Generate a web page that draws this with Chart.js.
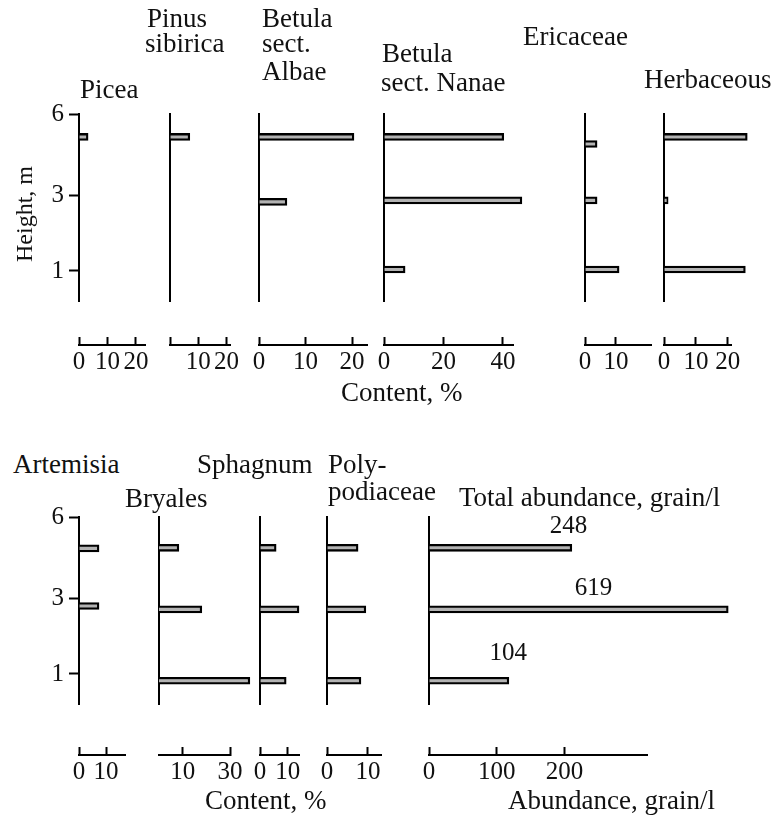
<!DOCTYPE html>
<html>
<head>
<meta charset="utf-8">
<script src="https://cdn.jsdelivr.net/npm/chart.js@4/dist/chart.umd.min.js"></script>
<style>
html,body{margin:0;padding:0;background:#fff;}
#wrap{position:relative;width:775px;height:818px;overflow:hidden;font-family:"Liberation Serif","Times New Roman",serif;color:#111;}
#wrap canvas{position:absolute;}
.t{position:absolute;white-space:nowrap;line-height:1;}
</style>
</head>
<body>
<div id="wrap"></div>
<script>
// ---------------- DATA ----------------
const heightTicks = [1, 3, 6];

// Row 1 (heights in m, contents in %)
const piceaHeights = [5.16];
const piceaValues = [3.2];
const pinusHeights = [5.16];
const pinusValues = [7];
const betulaAlbaeHeights = [5.16, 2.84];
const betulaAlbaeValues = [20.4, 6];
const betulaNanaeHeights = [5.16, 2.88, 1.04];
const betulaNanaeValues = [40.3, 46.4, 7.1];
const ericaceaeHeights = [4.9, 2.88, 1.04];
const ericaceaeValues = [3.9, 3.9, 11];
const herbaceousHeights = [5.16, 2.88, 1.04];
const herbaceousValues = [26.1, 1.3, 25.5];

// Row 2
const artemisiaHeights = [4.85, 2.81];
const artemisiaValues = [7.4, 7.4];
const bryalesHeights = [4.87, 2.72, 0.82];
const bryalesValues = [8.4, 18.1, 38.4];
const sphagnumHeights = [4.87, 2.72, 0.82];
const sphagnumValues = [5.8, 14, 9.4];
const polypodiaceaeHeights = [4.87, 2.72, 0.82];
const polypodiaceaeValues = [7.6, 9.5, 8.3];
const totalHeights = [4.87, 2.72, 0.82];
const totalValues = [211, 442, 118];
const totalLabels = ['248', '619', '104'];

// x tick values / labels
const ticks0_10_20 = [0, 10, 20];
const labels0_10_20 = ['0', '10', '20'];
const labelsPinus = ['', '10', '20'];
const ticks0_20_40 = [0, 20, 40];
const labels0_20_40 = ['0', '20', '40'];
const ticks0_10 = [0, 10];
const labels0_10 = ['0', '10'];
const ticksBryales = [10, 30];
const labelsBryales = ['10', '30'];
const ticksTotal = [0, 100, 200];
const labelsTotal = ['0', '100', '200'];

// ---------------- CUSTOM SCALE (uneven height axis) ----------------
const K = 1.09;
class PiecewiseScale extends Chart.LinearScale {
  static id = 'piecewise';
  static defaults = Chart.LinearScale.defaults;
  _u(v) { return v <= 3 ? (v - 1) / 2 : 1 + K * (v - 3) / 3; }
  _v(u) { return u <= 1 ? 1 + 2 * u : 3 + 3 * (u - 1) / K; }
  getPixelForValue(value) {
    if (value === null || value === undefined || isNaN(value)) return NaN;
    const a = this._u(this.min), b = this._u(this.max);
    return this.getPixelForDecimal((this._u(value) - a) / (b - a));
  }
  getValueForPixel(pixel) {
    const a = this._u(this.min), b = this._u(this.max);
    return this._v(a + this.getDecimalForPixel(pixel) * (b - a));
  }
}
Chart.register(PiecewiseScale);
Chart.defaults.font.family = '"Liberation Serif", "Times New Roman", serif';
Chart.defaults.color = '#111';

const totalLabelPlugin = {
  id: 'totalLabels',
  afterDatasetsDraw(chart, args, opts) {
    if (!opts || !opts.texts) return;
    const ctx = chart.ctx, xs = chart.scales.x, ys = chart.scales.y;
    ctx.save();
    ctx.font = '25px "Liberation Serif"';
    ctx.fillStyle = '#111';
    ctx.textAlign = 'center';
    ctx.textBaseline = 'alphabetic';
    opts.texts.forEach((t, i) => {
      ctx.fillText(t, xs.getPixelForValue(opts.anchors[i]), ys.getPixelForValue(opts.heights[i]) - opts.lift[i]);
    });
    ctx.restore();
  }
};

// ---------------- LAYOUT ----------------
const wrap = document.getElementById('wrap');
const PAD_L = 50, PAD_T = 20, AXIS_H = 42, PAD_R = 100, PLOT_H = 187;
const rows = [{top: 114, gap: 44}, {top: 517, gap: 51}];

const panels = [
  {row: 0, first: true,  axisX: 79,  len: 66,  max: 23.2, h: piceaHeights, v: piceaValues, ticks: ticks0_10_20, labels: labels0_10_20},
  {row: 0, first: false, axisX: 170, len: 60,  max: 21.2, h: pinusHeights, v: pinusValues, ticks: ticks0_10_20, labels: labelsPinus},
  {row: 0, first: false, axisX: 259, len: 108, max: 23.2, h: betulaAlbaeHeights, v: betulaAlbaeValues, ticks: ticks0_10_20, labels: labels0_10_20},
  {row: 0, first: false, axisX: 384, len: 129, max: 43.4, h: betulaNanaeHeights, v: betulaNanaeValues, ticks: ticks0_20_40, labels: labels0_20_40},
  {row: 0, first: false, axisX: 585, len: 66,  max: 21.3, h: ericaceaeHeights, v: ericaceaeValues, ticks: ticks0_10, labels: labels0_10},
  {row: 0, first: false, axisX: 664, len: 67,  max: 21,   h: herbaceousHeights, v: herbaceousValues, ticks: ticks0_10_20, labels: labels0_10_20},
  {row: 1, first: true,  axisX: 79,  len: 46,  max: 17,   h: artemisiaHeights, v: artemisiaValues, ticks: ticks0_10, labels: labels0_10},
  {row: 1, first: false, axisX: 159, len: 71,  max: 30,   h: bryalesHeights, v: bryalesValues, ticks: ticksBryales, labels: labelsBryales},
  {row: 1, first: false, axisX: 260, len: 39,  max: 14,   h: sphagnumHeights, v: sphagnumValues, ticks: ticks0_10, labels: labels0_10},
  {row: 1, first: false, axisX: 327, len: 54,  max: 13.2, h: polypodiaceaeHeights, v: polypodiaceaeValues, ticks: ticks0_10, labels: labels0_10},
  {row: 1, first: false, axisX: 429, len: 218, max: 322,  h: totalHeights, v: totalValues, ticks: ticksTotal, labels: labelsTotal, total: true}
];

panels.forEach(p => {
  const row = rows[p.row];
  const W = PAD_L + p.len + PAD_R;
  const H = PAD_T + PLOT_H + row.gap + AXIS_H;
  const c = document.createElement('canvas');
  c.width = W; c.height = H;
  c.style.width = W + 'px'; c.style.height = H + 'px';
  c.style.left = (p.axisX - PAD_L) + 'px';
  c.style.top = (row.top - PAD_T) + 'px';
  wrap.appendChild(c);
  new Chart(c, {
    type: 'bar',
    data: {
      datasets: [{
        data: p.h.map((h, i) => ({x: p.v[i], y: h})),
        xAxisID: 'x', yAxisID: 'y',
        backgroundColor: '#b3b3b3',
        borderColor: '#000',
        borderWidth: 2.3,
        borderSkipped: 'start',
        barThickness: 7,
        clip: false
      }]
    },
    options: {
      indexAxis: 'y',
      responsive: false,
      animation: false,
      devicePixelRatio: 1,
      layout: {padding: {top: PAD_T, right: PAD_R, left: 0, bottom: 0}},
      plugins: {
        legend: {display: false},
        tooltip: {enabled: false},
        totalLabels: p.total ? {texts: totalLabels, heights: totalHeights, anchors: [206, 243, 117], lift: [15, 14, 21]} : {}
      },
      scales: {
        y: {
          type: 'piecewise', min: 0.2, max: 6, offset: false, position: 'left',
          afterBuildTicks: s => { s.ticks = heightTicks.map(v => ({value: v})); },
          afterFit: s => { s.width = PAD_L; },
          grid: {display: p.first, drawOnChartArea: false, drawTicks: true, tickLength: 10, tickWidth: 2, tickColor: '#000', color: '#000', offset: false},
          border: {display: true, color: '#000', width: 2},
          ticks: {display: p.first, font: {size: 25}, color: '#111', padding: 5, callback: v => String(v)}
        },
        x: {
          type: 'linear', min: 0, max: p.max, position: 'bottom', weight: 2,
          afterBuildTicks: s => { s.ticks = p.ticks.map(v => ({value: v})); },
          afterFit: s => { s.height = AXIS_H; },
          grid: {display: true, drawOnChartArea: false, drawTicks: true, tickLength: -8, tickWidth: 2, tickColor: '#000', color: '#000'},
          border: {display: true, color: '#000', width: 2},
          ticks: {font: {size: 25}, color: '#111', padding: 10, maxRotation: 0, autoSkip: false, callback: (v, i) => p.labels[i]}
        },
        gap: {
          type: 'linear', min: 0, max: 1, position: 'bottom', weight: 1, display: true,
          afterFit: s => { s.height = row.gap; },
          grid: {display: false, drawTicks: false},
          border: {display: false},
          ticks: {display: false}
        }
      }
    },
    plugins: p.total ? [totalLabelPlugin] : []
  });
});

// ---------------- TEXT ----------------
function text(str, x, baseline, size) {
  const d = document.createElement('div');
  d.className = 't';
  d.style.fontSize = size + 'px';
  d.style.left = x + 'px';
  d.style.top = (baseline - 0.8375 * size) + 'px';
  d.textContent = str;
  wrap.appendChild(d);
  return d;
}
const TS = 27;
text('Picea', 80, 99, TS);
text('Pinus', 147, 28, TS);
text('sibirica', 145, 53, TS);
text('Betula', 262, 28, TS);
text('sect.', 262, 53, TS);
text('Albae', 262, 81, TS);
text('Betula', 382, 63, TS);
text('sect. Nanae', 381, 92, TS);
text('Ericaceae', 523, 46, TS);
text('Herbaceous', 644, 89, TS);
text('Content, %', 341, 402, TS);

text('Artemisia', 13, 474, TS);
text('Bryales', 125, 508, TS);
text('Sphagnum', 197, 474, TS);
text('Poly-', 328, 474, TS);
text('podiaceae', 328, 501, TS);
text('Total abundance, grain/l', 459, 507, TS);
text('Content, %', 205, 810, TS);
text('Abundance, grain/l', 508, 810, TS);

const hm = document.createElement('div');
hm.className = 't';
hm.style.fontSize = '24px';
hm.textContent = 'Height, m';
hm.style.left = '24px';
hm.style.top = '214px';
hm.style.transform = 'translate(-50%, -50%) rotate(-90deg)';
wrap.appendChild(hm);
</script>
</body>
</html>
